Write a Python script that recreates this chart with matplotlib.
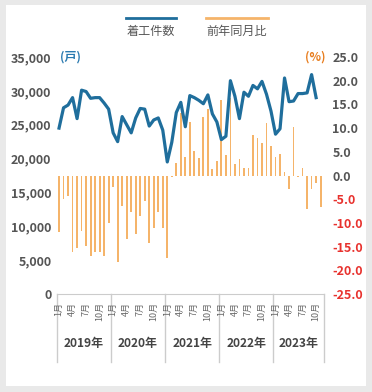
import matplotlib
matplotlib.use("Agg")
import matplotlib.pyplot as plt
from matplotlib.patches import Rectangle
from matplotlib.lines import Line2D

plt.rcParams['font.family'] = ['Noto Sans CJK JP', 'DejaVu Sans']

# housing starts (units), Jan 2019 - Oct 2023
starts = [24500, 27500, 27900, 29000, 25900, 30100, 29900, 28900, 29000, 29000, 28200, 27300,
          23800, 22500, 26200, 25000, 23800, 26000, 27400, 27300, 24800, 25700, 26000, 24200,
          19500, 22400, 26800, 28300, 24700, 29300, 29000, 28600, 28100, 29400, 26600, 25400,
          22800, 23300, 31500, 29200, 25900, 29800, 29200, 30800, 30300, 31400, 29500, 27000,
          23600, 24400, 31900, 28400, 28500, 29600, 29600, 29700, 32400, 29000]
# year-on-year change (%), Jan 2019 - Nov 2023
yoy = [-11.9, -5.0, -4.3, -16.1, -15.2, -11.7, -14.8, -16.9, -16.1, -16.1, -16.9, -10.0,
       -2.5, -18.2, -6.4, -13.5, -7.8, -12.4, -8.5, -5.3, -14.2, -11.0, -7.8, -11.0,
       -17.3, -0.3, 2.6, 13.1, 4.0, 11.2, 5.2, 3.7, 12.3, 14.0, 1.3, 3.1,
       15.9, 4.3, 16.3, 2.4, 3.4, 1.6, 1.5, 8.5, 8.0, 6.9, 11.0, 6.2,
       4.0, 4.5, 0.8, -2.8, 10.2, -0.4, 1.6, -7.1, -2.8, -1.6, -6.7]
years = ['2019年', '2020年', '2021年', '2022年', '2023年']
month_ticks = ['1月', '4月', '7月', '10月']
left_ticks = [0, 5000, 10000, 15000, 20000, 25000, 30000, 35000]
right_ticks = [-25, -20, -15, -10, -5, 0, 5, 10, 15, 20, 25]

W, H = 372, 392
BLUE = '#1f6e9c'
ORANGE = '#f5b46a'
GRAY = '#555555'
RED = '#e8322e'


def fx(x):
    return x / W


def fy(y):
    return 1 - y / H


fig = plt.figure(figsize=(W / 100, H / 100), dpi=100, facecolor='#e9e9e9')
# white card behind the chart
fig.patches.append(Rectangle((fx(6), fy(386)), fx(360), 381 / H, transform=fig.transFigure,
                             facecolor='white', edgecolor='none', zorder=-5))

ax = fig.add_axes([fx(57), fy(294), fx(267), 237 / H])
ax2 = ax.twinx()
ax.set_zorder(ax2.get_zorder() + 1)
ax.patch.set_visible(False)
ax2.patch.set_visible(False)

# bars (right axis)
ax2.bar(range(len(yoy)), yoy, width=0.4, color=ORANGE, zorder=2)
ax2.set_ylim(-25, 25)
ax2.set_yticks(right_ticks)
ax2.set_yticklabels([f"{v:.1f}" for v in right_ticks], fontsize=9, fontweight='bold')
for lab, v in zip(ax2.get_yticklabels(), right_ticks):
    lab.set_color(RED if v < 0 else GRAY)
ax2.tick_params(axis='y', length=0, pad=6)

# line (left axis)
ax.plot(range(len(starts)), starts, color=BLUE, lw=2.3, zorder=3)
ax.set_ylim(0, 35000)
ax.set_yticks(left_ticks)
ax.set_yticklabels([f"{v:,}" for v in left_ticks], fontsize=9, fontweight='bold', color=GRAY)
ax.tick_params(axis='y', length=0, pad=4)

ax.set_xlim(-0.45, 58.75)
ax.set_xticks([])
for a in (ax, ax2):
    for s in a.spines.values():
        s.set_visible(False)
ax.spines['bottom'].set_visible(True)
ax.spines['bottom'].set_color('#cccccc')

# year dividers and labels
tr = ax.get_xaxis_transform()
edges = [-0.45, 11.5, 23.5, 35.5, 47.5, 58.75]
for x in edges:
    ax.plot([x, x], [0, -68 / 237], transform=tr, color='#cccccc', lw=1, clip_on=False)
for k, yr in enumerate(years):
    ax.text((edges[k] + edges[k + 1]) / 2, -49 / 237, yr, transform=tr, ha='center', va='center',
            fontsize=8.6, fontweight='bold', color='#444444')
    for j, m in enumerate(month_ticks):
        ax.text(12 * k + 3 * j, -8 / 237, m, transform=tr, rotation=90, ha='center', va='top',
                fontsize=6.5, color='#666666')

# units
fig.text(fx(70), fy(57), '(戸)', color='#2a7ab0', ha='center', va='center', fontsize=8.6,
         fontweight='bold')
fig.text(fx(315), fy(57), '(%)', color='#e87d1e', ha='center', va='center', fontsize=8.6,
         fontweight='bold')

# legend
fig.lines.append(Line2D([fx(125.7), fx(175.7)], [fy(17.7), fy(17.7)], transform=fig.transFigure,
                        color=BLUE, lw=2))
fig.lines.append(Line2D([fx(206), fx(267.7)], [fy(17.7), fy(17.7)], transform=fig.transFigure,
                        color=ORANGE, lw=2))
fig.text(fx(150.7), fy(31), '着工件数', ha='center', va='center', fontsize=8.7, color=GRAY)
fig.text(fx(237), fy(31), '前年同月比', ha='center', va='center', fontsize=8.7, color=GRAY)

fig.savefig('out.png', dpi=100, facecolor=fig.get_facecolor())
